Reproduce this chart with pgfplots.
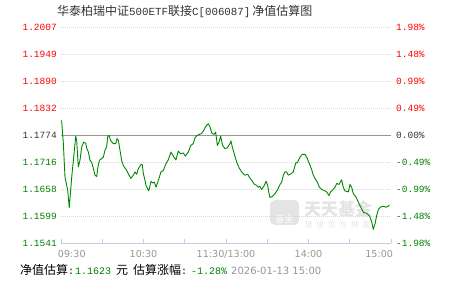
\documentclass[border=0pt]{standalone}
\usepackage{pgfplots}
\pgfplotsset{compat=1.18}
\usepackage{fontspec}
\setmainfont{DejaVu Sans}
\newfontfamily\cjk{Noto Sans CJK SC}
\newfontfamily\mono{Liberation Mono}
\newfontfamily\sansf{DejaVu Sans}
\definecolor{upred}{RGB}{255,0,0}
\definecolor{dngreen}{RGB}{0,128,0}
\definecolor{linegreen}{RGB}{0,135,0}
\definecolor{axisblue}{RGB}{192,208,224}
\definecolor{gridgray}{RGB}{215,215,215}
\definecolor{zerogray}{RGB}{150,150,150}
\definecolor{txtgray}{RGB}{150,150,150}
\definecolor{darktxt}{RGB}{51,51,51}
\definecolor{wm}{RGB}{228,228,228}
\begin{document}
\begin{tikzpicture}
\path[use as bounding box] (-61pt,-38pt) rectangle (390pt,243pt);
% watermark
\fill[wm, rounded corners=5pt] (209pt,18pt) rectangle (238pt,43pt);
\node[anchor=center, inner sep=0pt, text=white] at (223.5pt,24pt) {\cjk\fontsize{9}{9}\selectfont 基金};
\node[anchor=west, inner sep=0pt, text=wm] at (243pt,34.5pt) {\cjk\bfseries\fontsize{17}{17}\selectfont 天天基金};
\node[anchor=west, inner sep=0pt, text=wm] at (244pt,18.5pt) {\cjk\fontsize{7.5}{7.5}\selectfont 链\hspace{4pt}接\hspace{4pt}您\hspace{4pt}与\hspace{4pt}财\hspace{4pt}富};
\begin{axis}[
  scale only axis, width=330pt, height=216pt,
  xmin=0, xmax=240, ymin=1.15406, ymax=1.20068,
  axis x line*=bottom, axis y line*=left,
  x axis line style={axisblue, line width=0.8pt},
  y axis line style={draw=none},
  ytick={1.15406,1.15989,1.16572,1.17154,1.17737,1.18320,1.18903,1.19485,1.20068},
  yticklabels={\textcolor{dngreen}{1.1541},\textcolor{dngreen}{1.1599},\textcolor{dngreen}{1.1658},\textcolor{dngreen}{1.1716},\textcolor{darktxt}{1.1774},\textcolor{upred}{1.1832},\textcolor{upred}{1.1890},\textcolor{upred}{1.1949},\textcolor{upred}{1.2007}},
  ytick style={draw=none},
  yticklabel style={font=\mono\fontsize{9.5}{9.5}\selectfont, inner sep=0pt, anchor=east, xshift=-4pt},
  ymajorgrids, grid style={gridgray, dash pattern=on 1pt off 1pt, line width=0.6pt},
  xtick={0,60,120,180,240},
  minor xtick={30,90,150,210},
  xticklabels={\makebox[0pt][l]{\hspace{-3pt}09:30},10:30,11:30/13:00,14:00,\makebox[0pt][r]{15:00\hspace{-2pt}}},
  xticklabel style={font=\sansf\fontsize{9.6}{9.6}\selectfont, text=txtgray, inner sep=0pt, anchor=north, yshift=-7pt},
  tick align=inside, major tick length=4pt, minor tick length=4pt,
  xtick style={axisblue, line width=0.8pt},
  every minor tick/.append style={axisblue, line width=0.8pt},
  clip=false,
]
\addplot[zerogray, line width=0.8pt, forget plot] coordinates {(0,1.17737) (240,1.17737)};
\addplot[linegreen, line width=0.9pt, line join=round] coordinates {
(0,1.1805) (0.5,1.1803) (1.7,1.1756) (2.9,1.1683) (4.9,1.1654) (6.0,1.1617) (7.8,1.1683) (9.5,1.1734)
(10.7,1.1771) (11.4,1.1762) (12.6,1.1705) (13.8,1.1719) (15.1,1.1748) (16.5,1.1758) (18.0,1.1756)
(18.7,1.1745) (19.9,1.1737) (21.1,1.1719) (22.3,1.1715) (23.5,1.1702) (24.7,1.1687) (26.0,1.1684)
(26.7,1.1702) (27.9,1.1719) (29.6,1.1723) (30.8,1.1726) (32.0,1.1741) (33.2,1.1748) (34.0,1.1771)
(34.9,1.1773) (36.1,1.1762) (38.0,1.1755) (39.8,1.1755) (40.7,1.1766) (41.7,1.1762) (42.9,1.1741)
(44.1,1.1719) (45.3,1.1708) (47.8,1.1697) (49.5,1.1687) (50.9,1.1680) (52.6,1.1687) (53.8,1.1694)
(55.1,1.1689) (56.2,1.1701) (58.2,1.1710) (59.1,1.1710) (59.9,1.1690) (61.1,1.1676) (61.8,1.1665)
(63.8,1.1653) (65.5,1.1674) (66.7,1.1670) (67.9,1.1672) (69.1,1.1661) (70.8,1.1676) (72.7,1.1694)
(74.4,1.1697) (76.4,1.1712) (78.0,1.1720) (80.0,1.1737) (81.7,1.1728) (83.6,1.1720) (85.3,1.1739)
(87.1,1.1733) (89.0,1.1735) (90.4,1.1728) (92.6,1.1737) (94.3,1.1751) (96.2,1.1755) (97.5,1.1768)
(99.1,1.1773) (102.3,1.1777) (103.5,1.1782) (105.2,1.1792) (107.1,1.1798) (108.4,1.1791) (109.6,1.1778)
(111.3,1.1775) (112.5,1.1780) (113.7,1.1751) (114.9,1.1758) (116.1,1.1771) (117.6,1.1751) (119.3,1.1744)
(120.9,1.1746) (122.9,1.1755) (123.6,1.1761) (124.6,1.1748) (126.0,1.1733) (127.8,1.1715) (129.5,1.1703)
(131.4,1.1694) (133.8,1.1687) (135.8,1.1689) (136.9,1.1683) (138.7,1.1676) (140.6,1.1667) (142.3,1.1665)
(143.5,1.1661) (144.7,1.1663) (145.9,1.1656) (147.9,1.1665) (149.1,1.1674) (150.3,1.1665) (151.3,1.1647)
(152.0,1.1639) (153.7,1.1641) (155.6,1.1647) (157.6,1.1656) (159.3,1.1667) (160.5,1.1672) (161.7,1.1687)
(162.9,1.1694) (164.1,1.1694) (165.3,1.1687) (167.3,1.1690) (168.9,1.1694) (170.7,1.1713) (172.1,1.1715)
(173.8,1.1726) (175.5,1.1732) (177.5,1.1732) (179.1,1.1723) (180.6,1.1712) (182.3,1.1699) (183.5,1.1687)
(184.7,1.1680) (186.4,1.1672) (187.9,1.1661) (189.6,1.1656) (191.3,1.1654) (193.2,1.1651) (194.9,1.1643)
(196.1,1.1651) (197.3,1.1654) (199.3,1.1661) (200.5,1.1669) (202.2,1.1667) (204.1,1.1677) (205.3,1.1661)
(206.5,1.1653) (209.0,1.1651) (210.2,1.1667) (211.4,1.1661) (212.6,1.1647) (214.5,1.1640) (216.2,1.1629)
(218.0,1.1618) (219.9,1.1607) (221.8,1.1605) (223.5,1.1602) (224.7,1.1597) (226.0,1.1586) (227.1,1.1570)
(228.4,1.1582) (229.6,1.1600) (230.8,1.1613) (232.5,1.1618) (234.4,1.1620) (236.4,1.1618) (238.0,1.1620)
(238.8,1.1623)
};
\end{axis}
\begin{axis}[
  scale only axis, width=330pt, height=216pt,
  xmin=0, xmax=240, ymin=1.15406, ymax=1.20068,
  axis x line=none, axis y line*=right,
  y axis line style={draw=none},
  ytick={1.15406,1.15989,1.16572,1.17154,1.17737,1.18320,1.18903,1.19485,1.20068},
  yticklabels={\textcolor{dngreen}{-1.98\%},\textcolor{dngreen}{-1.48\%},\textcolor{dngreen}{-0.99\%},\textcolor{dngreen}{-0.49\%},\textcolor{darktxt}{0.00\%},\textcolor{upred}{0.49\%},\textcolor{upred}{0.99\%},\textcolor{upred}{1.48\%},\textcolor{upred}{1.98\%}},
  ytick style={draw=none},
  yticklabel style={font=\mono\fontsize{9.5}{9.5}\selectfont, inner sep=0pt, anchor=west, xshift=5pt},
]
\addplot[draw=none, forget plot] coordinates {(0,1.17737) (240,1.17737)};
\end{axis}
% title
\node[anchor=base west, inner sep=0pt, text=darktxt] at (-4pt,227.5pt) {\cjk\fontsize{12}{12}\selectfont 华泰柏瑞中证{\mono\fontsize{10.8}{10.8}\selectfont 500ETF}联接{\mono\fontsize{10.8}{10.8}\selectfont C[006087]\hspace{2pt}}净值估算图};
% bottom info line
\node[anchor=base west, inner sep=0pt, text=black] at (-41pt,-32pt) {\cjk\fontsize{12}{12}\selectfont 净值估算\mono\fontsize{10}{10}\selectfont :};
\node[anchor=base west, inner sep=0pt, text=dngreen] at (14pt,-32pt) {\mono\fontsize{10}{10}\selectfont 1.1623};
\node[anchor=base west, inner sep=0pt, text=black] at (55pt,-32pt) {\cjk\fontsize{12}{12}\selectfont 元};
\node[anchor=base west, inner sep=0pt, text=black] at (72pt,-32pt) {\cjk\fontsize{12}{12}\selectfont 估算涨幅\mono\fontsize{10}{10}\selectfont :};
\node[anchor=base west, inner sep=0pt, text=dngreen] at (130pt,-32pt) {\mono\fontsize{10}{10}\selectfont -1.28\%};
\node[anchor=base west, inner sep=0pt, text=txtgray] at (170pt,-32pt) {\sansf\fontsize{10}{10}\selectfont 2026-01-13 15:00};
\end{tikzpicture}
\end{document}
